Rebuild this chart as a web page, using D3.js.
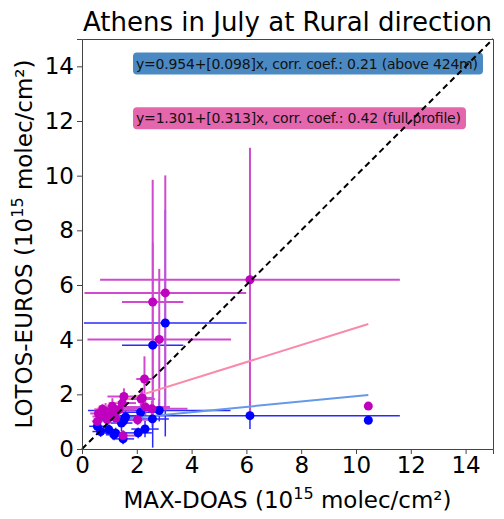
<!DOCTYPE html>
<html>
<head>
<meta charset="utf-8">
<script src="https://cdn.jsdelivr.net/npm/d3@7"></script>
<style>
    body { margin: 0; background: #fff; }
    text { font-family: 'DejaVu Sans', sans-serif; }
</style>
</head>
<body>
<div id="chart"></div>
<script>
'use strict';

// data: [x, y, xerr, yerr]  (10^15 molec/cm2)
var bluePoints = [
    [6.13, 1.22, 5.47, 0.49],
    [3.04, 4.61, 2.97, 4.15],
    [2.58, 3.80, 1.12, 3.75],
    [2.82, 1.41, 2.60, 0.40],
    [2.57, 1.10, 0.60, 0.30],
    [2.30, 0.73, 0.50, 0.30],
    [2.05, 0.59, 0.50, 0.20],
    [1.50, 0.37, 0.40, 0.20],
    [1.23, 0.58, 0.40, 0.20],
    [0.56, 0.83, 0.30, 0.20],
    [0.68, 0.64, 0.30, 0.20],
    [0.98, 0.71, 0.30, 0.20],
    [1.17, 0.52, 0.30, 0.20],
    [1.44, 0.95, 0.40, 0.30],
    [1.59, 1.17, 0.50, 0.30],
    [2.14, 1.34, 0.70, 0.30],
    [1.53, 1.05, 0.40, 0.20],
    [10.45, 1.05, 0, 0]
]
var magentaPoints = [
    [6.13, 6.19, 5.47, 4.83],
    [3.04, 5.71, 2.95, 4.30],
    [2.58, 5.38, 1.12, 4.47],
    [2.82, 4.01, 2.62, 2.58],
    [2.28, 2.56, 0.30, 0.83],
    [10.45, 1.57, 0, 0],
    [1.53, 1.92, 0.60, 0.30],
    [2.20, 1.87, 0.40, 0.30],
    [2.16, 1.83, 0.50, 0.40],
    [2.31, 1.54, 0.90, 0.30],
    [2.55, 1.47, 1.30, 0.30],
    [2.03, 1.07, 0.40, 0.20],
    [1.50, 0.49, 0.50, 0.20],
    [0.68, 1.19, 0.30, 0.20],
    [0.86, 1.38, 0.40, 0.30],
    [1.11, 1.56, 0.50, 0.30],
    [1.35, 1.44, 0.60, 0.30],
    [0.92, 1.07, 0.30, 0.20],
    [1.23, 1.13, 0.40, 0.20],
    [0.56, 1.01, 0.20, 0.20],
    [1.47, 1.68, 0.50, 0.30],
    [0.75, 1.45, 0.30, 0.20],
    [1.00, 1.25, 0.30, 0.20],
    [1.20, 1.35, 0.30, 0.20],
    [0.60, 1.30, 0.30, 0.20]
]
// fits: intercept, slope, x range
var blueFit = [0.954, 0.098, 0.5, 10.45]
var magentaFit = [1.301, 0.313, 0.5, 10.45]
var fitLabels = [
    'y=0.954+[0.098]x, corr. coef.: 0.21 (above 424m)',
    'y=1.301+[0.313]x, corr. coef.: 0.42 (full profile)'
]
var ticks = [0, 2, 4, 6, 8, 10, 12, 14]

var width = 504, height = 519
var padding = { left: 82, right: 11, top: 39, bottom: 70 }

var svg = d3.select('#chart').append('svg').attr('width', width).attr('height', height)

var xScale = d3.scaleLinear().domain([0, 15]).range([padding.left, width - padding.right])
var yScale = d3.scaleLinear().domain([0, 15]).range([height - padding.bottom, padding.top])

// annotation boxes
var boxes = [
    { y: 14.1, w: 350, fill: '#4a89c2', text: fitLabels[0] },
    { y: 12.1, w: 333, fill: '#e466ad', text: fitLabels[1] }
]
boxes.forEach(function(b) {
    var cy = yScale(b.y)
    svg.append('rect')
        .attr('x', 133).attr('y', cy - 11)
        .attr('width', b.w).attr('height', 22)
        .attr('rx', 4)
        .style('fill', b.fill)
    svg.append('text')
        .attr('x', 136).attr('y', cy + 5)
        .attr('textLength', b.w - 8)
        .style('font-size', '14px')
        .style('fill', '#111')
        .text(b.text)
})

function drawBars(data, color, lw) {
    var g = svg.append('g').style('stroke', color).style('stroke-width', lw)
    data.forEach(function(d) {
        if (d[2] > 0) {
            g.append('line')
                .attr('x1', xScale(d[0] - d[2])).attr('x2', xScale(d[0] + d[2]))
                .attr('y1', yScale(d[1])).attr('y2', yScale(d[1]))
        }
        if (d[3] > 0) {
            g.append('line')
                .attr('x1', xScale(d[0])).attr('x2', xScale(d[0]))
                .attr('y1', yScale(d[1] - d[3])).attr('y2', yScale(d[1] + d[3]))
        }
    })
}
drawBars(bluePoints, '#2a2aff', 1.5)
drawBars(magentaPoints, '#cf4acf', 2)

function drawFit(f, color) {
    svg.append('line')
        .attr('x1', xScale(f[2])).attr('y1', yScale(f[0] + f[1] * f[2]))
        .attr('x2', xScale(f[3])).attr('y2', yScale(f[0] + f[1] * f[3]))
        .style('stroke', color).style('stroke-width', 2)
}
drawFit(magentaFit, '#f98aa9')
drawFit(blueFit, '#6699e8')

svg.append('g').selectAll('circle').data(bluePoints).enter().append('circle')
    .attr('cx', function(d) { return xScale(d[0]) })
    .attr('cy', function(d) { return yScale(d[1]) })
    .attr('r', 4.5)
    .style('fill', '#0000ff')
svg.append('g').selectAll('circle').data(magentaPoints).enter().append('circle')
    .attr('cx', function(d) { return xScale(d[0]) })
    .attr('cy', function(d) { return yScale(d[1]) })
    .attr('r', 4.5)
    .style('fill', '#bf00bf')

// 1:1 line
svg.append('line')
    .attr('x1', xScale(0)).attr('y1', yScale(0))
    .attr('x2', xScale(15)).attr('y2', yScale(15))
    .style('stroke', '#000').style('stroke-width', 2).style('stroke-dasharray', '6,4')

// axes
var xAxis = svg.append('g')
    .attr('transform', 'translate(0,' + (height - padding.bottom) + ')')
    .call(d3.axisBottom(xScale).tickValues(ticks).tickSize(5).tickPadding(3))
var yAxis = svg.append('g')
    .attr('transform', 'translate(' + padding.left + ',0)')
    .call(d3.axisLeft(yScale).tickValues(ticks).tickSize(5).tickPadding(3))
svg.append('g')
    .attr('transform', 'translate(0,' + padding.top + ')')
    .call(d3.axisTop(xScale).tickValues([]).tickSizeOuter(0))
svg.append('g')
    .attr('transform', 'translate(' + (width - padding.right) + ',0)')
    .call(d3.axisRight(yScale).tickValues([]).tickSizeOuter(0))
svg.selectAll('.domain').style('stroke', '#444')
svg.selectAll('.tick line').style('stroke', '#444')
svg.selectAll('.tick text').style('font-size', '23px').style('font-family', 'DejaVu Sans').style('fill', '#000')

// labels
svg.append('text')
    .attr('x', (xScale(0) + xScale(15)) / 2).attr('y', 31)
    .attr('text-anchor', 'middle')
    .style('font-size', '26px')
    .text('Athens in July at Rural direction')

var xl = svg.append('text')
    .attr('x', (xScale(0) + xScale(15)) / 2).attr('y', 508)
    .attr('text-anchor', 'middle')
    .style('font-size', '23px')
xl.append('tspan').text('MAX-DOAS (10')
xl.append('tspan').attr('dy', -9).style('font-size', '16px').text('15')
xl.append('tspan').attr('dy', 9).text(' molec/cm\u00b2)')

var yl = svg.append('text')
    .attr('transform', 'translate(32,' + (yScale(0) + yScale(15)) / 2 + ') rotate(-90)')
    .attr('text-anchor', 'middle')
    .style('font-size', '23px')
yl.append('tspan').text('LOTOS-EUROS (10')
yl.append('tspan').attr('dy', -9).style('font-size', '16px').text('15')
yl.append('tspan').attr('dy', 9).text(' molec/cm\u00b2)')
</script>
</body>
</html>
